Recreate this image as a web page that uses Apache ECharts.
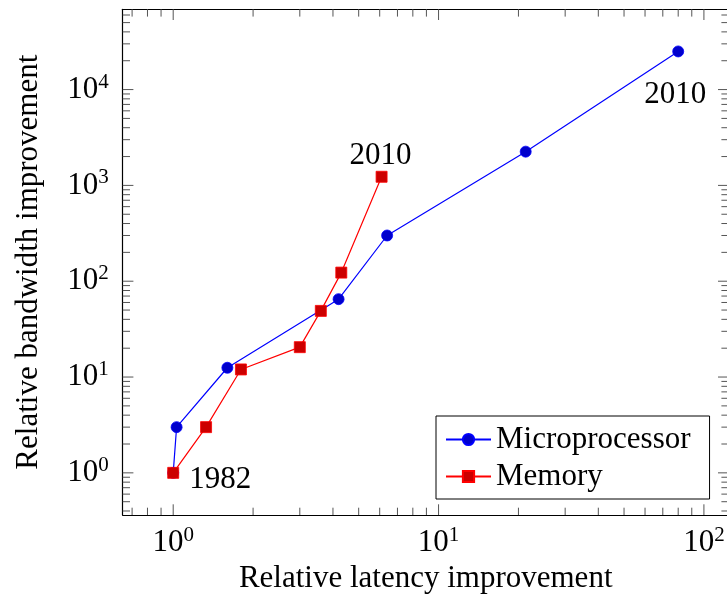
<!DOCTYPE html>
<html><head><meta charset="utf-8">
<style>html,body{margin:0;padding:0;background:#fff}#chart{width:727px;height:596px}</style>
<script src="https://cdn.jsdelivr.net/npm/echarts@6.0.0/dist/echarts.min.js"></script>
</head><body><div id="chart"></div>
<script>
// ---- data ----
const seriesNames = ['Microprocessor', 'Memory'];
const cpuLatency   = [1, 1.03, 1.6, 4.2, 6.4, 21.3, 80];
const cpuBandwidth = [1, 3, 12.5, 65, 300, 2250, 25000];
const memLatency   = [1, 1.33, 1.8, 3.0, 3.6, 4.3, 6.1];
const memBandwidth = [1, 3, 12, 20.5, 49, 123, 1230];
const xTickExponents = [0, 1, 2];
const yTickExponents = [0, 1, 2, 3, 4];
const xTitle = 'Relative latency improvement';
const yTitle = 'Relative bandwidth improvement';
const cpuYearLabels = {6: '2010'};
const memYearLabels = {0: '1982', 6: '2010'};

// ---- layout / style ----
const F = "'Liberation Serif','Times New Roman',serif";
const FS = 31;
function logRange(vals) {
  const lo = Math.log10(Math.min(...vals)), hi = Math.log10(Math.max(...vals));
  const pad = 0.1 * (hi - lo);
  return [Math.pow(10, lo - pad), Math.pow(10, hi + pad)];
}
const xr = logRange(cpuLatency.concat(memLatency));
const yr = logRange(cpuBandwidth.concat(memBandwidth));

function ticksFor(r) {
  const out = [];
  const a = Math.floor(Math.log10(r[0])), b = Math.ceil(Math.log10(r[1]));
  for (let k = a; k <= b; k++) {
    for (let m = 1; m <= 9; m++) {
      const v = m * Math.pow(10, k);
      if (v >= r[0] * 1.0001 && v <= r[1] / 1.0001) out.push({v: v, major: m === 1});
    }
  }
  return out;
}
const xTicks = ticksFor(xr), yTicks = ticksFor(yr);
const TS = {stroke: '#555', lineWidth: 1};
function tickSeries(list, isX) {
  return {
    type: 'custom', name: isX ? '_xt' : '_yt', silent: true, z: 1, clip: false,
    data: list.map(t => isX ? [t.v, yr[0]] : [xr[0], t.v]),
    renderItem(params, api) {
      const t = list[params.dataIndex];
      const len = t.major ? 10.7 : 7.3;
      const cs = params.coordSys;
      if (isX) {
        const x = api.coord([t.v, yr[0]])[0];
        const yb = cs.y + cs.height, yt = cs.y;
        return {type: 'group', children: [
          {type: 'line', shape: {x1: x, y1: yb, x2: x, y2: yb - len}, style: TS},
          {type: 'line', shape: {x1: x, y1: yt, x2: x, y2: yt + len}, style: TS}
        ]};
      } else {
        const y = api.coord([xr[0], t.v])[1];
        const xl = cs.x, xrt = cs.x + cs.width;
        return {type: 'group', children: [
          {type: 'line', shape: {x1: xl, y1: y, x2: xl + len, y2: y}, style: TS},
          {type: 'line', shape: {x1: xrt, y1: y, x2: xrt - len, y2: y}, style: TS}
        ]};
      }
    }
  };
}
function powLabel(allowed) {
  return function (v) {
    const l = Math.log10(v), k = Math.round(l);
    if (Math.abs(l - k) > 1e-6 || allowed.indexOf(k) < 0) return '';
    return '{b|10}{s|' + k + '}';
  };
}
const rich = {
  b: {fontSize: FS, fontFamily: F, color: '#000', lineHeight: 36, verticalAlign: 'middle'},
  s: {fontSize: 21, fontFamily: F, color: '#000', lineHeight: 21, verticalAlign: 'top'}
};
function yearLabel(text, off) {
  return {show: true, formatter: text, position: 'inside', offset: off,
          fontSize: FS, fontFamily: F, color: '#000'};
}
const annOffsets = {cpu: {6: [-3, 43.5]}, mem: {0: [47, 7], 6: [-1, -20.5]}};

const cpuData = cpuLatency.map((x, i) => {
  const d = {value: [x, cpuBandwidth[i]]};
  if (cpuYearLabels[i]) d.label = yearLabel(cpuYearLabels[i], annOffsets.cpu[i]);
  return d;
});
const memData = memLatency.map((x, i) => {
  const d = {value: [x, memBandwidth[i]]};
  if (memYearLabels[i]) d.label = yearLabel(memYearLabels[i], annOffsets.mem[i]);
  return d;
});

const chart = echarts.init(document.getElementById('chart'), null, {renderer: 'canvas'});
chart.setOption({
  animation: false,
  backgroundColor: '#fff',
  grid: {left: 122.7, top: 9.3, width: 606, height: 505.7, show: false,
         outerBoundsMode: 'none', containLabel: false},
  xAxis: [{
    type: 'log', logBase: 10, min: xr[0], max: xr[1], position: 'bottom',
    axisLine: {show: true, lineStyle: {color: '#000', width: 1.2}},
    axisTick: {show: false}, splitLine: {show: false},
    axisLabel: {formatter: powLabel(xTickExponents), rich: rich, margin: 10,
                showMinLabel: false, showMaxLabel: false},
    name: xTitle, nameLocation: 'middle', nameGap: 46,
    nameTextStyle: {fontSize: FS, fontFamily: F, color: '#000'}
  }, {
    type: 'log', logBase: 10, min: xr[0], max: xr[1], position: 'top',
    axisLine: {show: true, lineStyle: {color: '#000', width: 1.2}},
    axisTick: {show: false}, splitLine: {show: false}, axisLabel: {show: false}
  }],
  yAxis: [{
    type: 'log', logBase: 10, min: yr[0], max: yr[1], position: 'left',
    axisLine: {show: true, lineStyle: {color: '#000', width: 1.2}},
    axisTick: {show: false}, splitLine: {show: false},
    axisLabel: {formatter: powLabel(yTickExponents), rich: rich, margin: 14,
                showMinLabel: false, showMaxLabel: false},
    name: yTitle, nameLocation: 'middle', nameGap: 78,
    nameTextStyle: {fontSize: FS, fontFamily: F, color: '#000'}
  }, {
    type: 'log', logBase: 10, min: yr[0], max: yr[1], position: 'right',
    axisLine: {show: true, lineStyle: {color: '#000', width: 1.2}},
    axisTick: {show: false}, splitLine: {show: false}, axisLabel: {show: false}
  }],
  legend: {
    data: seriesNames, orient: 'vertical', left: 436, top: 416,
    itemWidth: 45, itemHeight: 14, itemGap: 6, padding: [8, 19, 7, 9],
    borderColor: '#000', borderWidth: 1, backgroundColor: '#fff',
    textStyle: {fontSize: FS, fontFamily: F, color: '#000', lineHeight: 31}
  },
  series: [
    tickSeries(xTicks, true),
    tickSeries(yTicks, false),
    {
      name: seriesNames[0], type: 'line', data: cpuData, z: 3,
      symbol: 'circle', symbolSize: 11, showAllSymbol: true,
      lineStyle: {color: '#0000ff', width: 1.2},
      itemStyle: {color: '#0000cc', borderColor: '#0000ff', borderWidth: 0.8}
    },
    {
      name: seriesNames[1], type: 'line', data: memData, z: 4,
      symbol: 'rect', symbolSize: 11, showAllSymbol: true,
      lineStyle: {color: '#ff0000', width: 1.2},
      itemStyle: {color: '#cc0000', borderColor: '#ff0000', borderWidth: 0.8}
    }
  ]
});
</script>
</body></html>
